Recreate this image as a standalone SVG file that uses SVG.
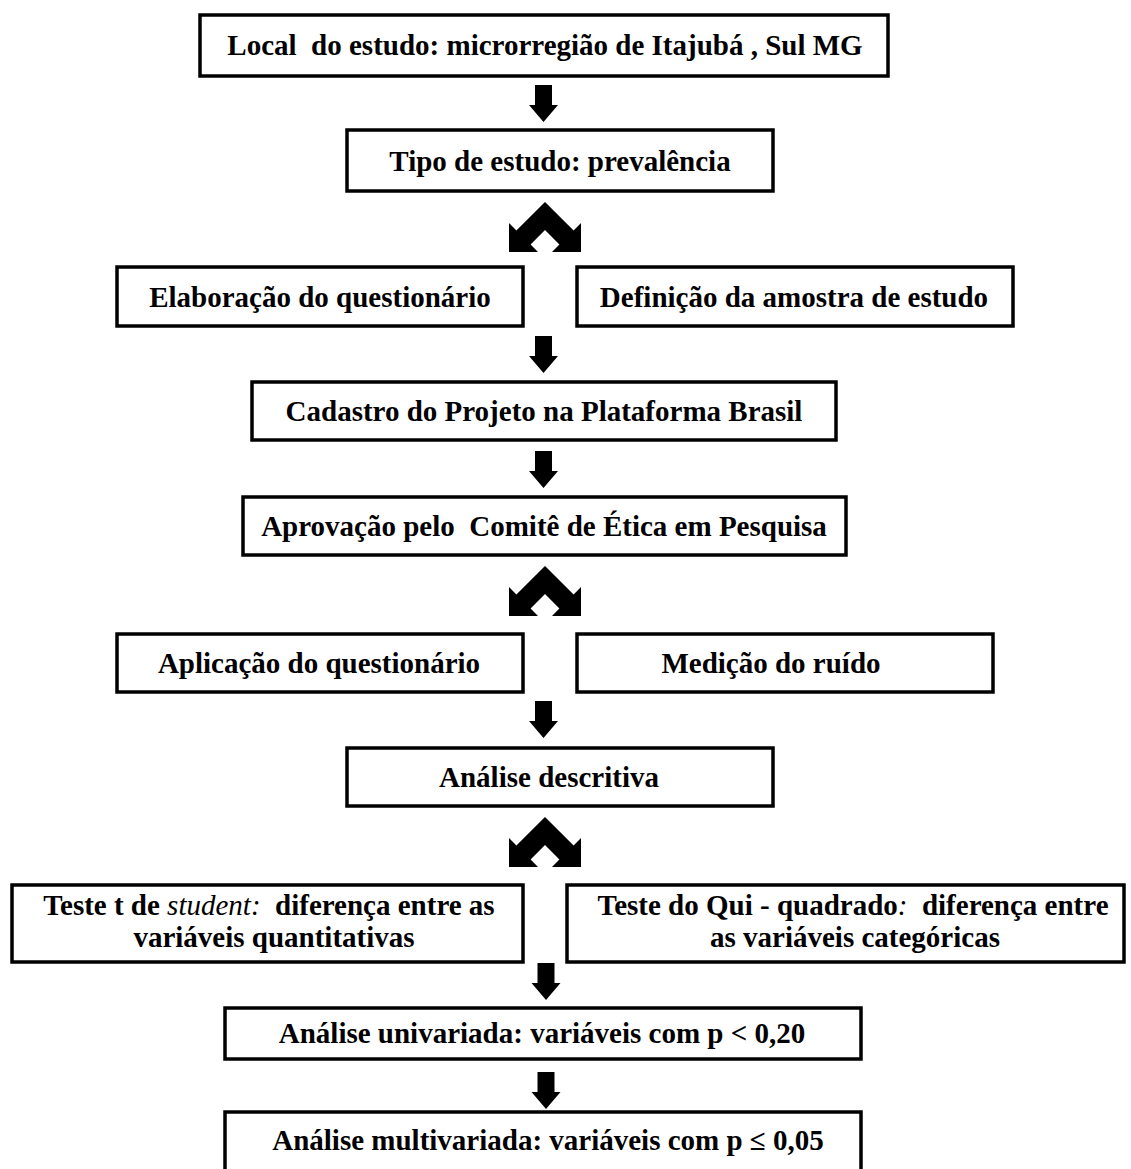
<svg xmlns="http://www.w3.org/2000/svg" xmlns:xlink="http://www.w3.org/1999/xlink" width="1131" height="1169" viewBox="0 0 1131 1169">
<style>
.box{fill:#fff;stroke:#000;stroke-width:3.5}
.t{font-family:"Liberation Serif","Times New Roman",serif;font-weight:bold;font-size:29px;fill:#000;text-anchor:middle}
.i{font-style:italic;font-weight:normal}
.arr{fill:#000}
</style>
<defs>
<path id="down" d="M-8.5,0 h17 v20 h6 l-14.5,17 l-14.5,-17 h6 z"/>
<path id="chev" d="M0,0 L-28.6,28.4 L-36,21 L-36,50 L-7,50 L-14.4,42.6 L0,28 L14.4,42.6 L7,50 L36,50 L36,21 L28.6,28.4 Z"/>
</defs>
<rect width="1131" height="1169" fill="#fff"/>
<g id="connectors" class="arr">
<use xlink:href="#down" x="543.5" y="85"/>
<use xlink:href="#chev" x="545" y="202"/>
<use xlink:href="#down" x="543.5" y="336"/>
<use xlink:href="#down" x="543.5" y="451"/>
<use xlink:href="#chev" x="545" y="566"/>
<use xlink:href="#down" x="543.5" y="701"/>
<use xlink:href="#chev" x="545" y="817"/>
<use xlink:href="#down" x="546" y="963"/>
<use xlink:href="#down" x="546" y="1072"/>
</g>
<g id="n1"><rect class="box" x="200" y="15" width="688" height="61"/><text class="t" x="545" y="55" xml:space="preserve">Local  do estudo: microrregião de Itajubá , Sul MG</text></g>
<g id="n2"><rect class="box" x="347" y="130" width="426" height="61"/><text class="t" x="560" y="171">Tipo de estudo: prevalência</text></g>
<g id="n3"><rect class="box" x="117" y="267" width="406" height="59"/><text class="t" x="320" y="307">Elaboração do questionário</text></g>
<g id="n4"><rect class="box" x="577" y="267" width="436" height="59"/><text class="t" x="794" y="307">Definição da amostra de estudo</text></g>
<g id="n5"><rect class="box" x="252" y="382" width="584" height="58"/><text class="t" x="544" y="421">Cadastro do Projeto na Plataforma Brasil</text></g>
<g id="n6"><rect class="box" x="243" y="497" width="603" height="58"/><text class="t" x="544" y="536" xml:space="preserve">Aprovação pelo  Comitê de Ética em Pesquisa</text></g>
<g id="n7"><rect class="box" x="117" y="634" width="406" height="58"/><text class="t" x="319" y="673">Aplicação do questionário</text></g>
<g id="n8"><rect class="box" x="577" y="634" width="416" height="58"/><text class="t" x="771" y="673">Medição do ruído</text></g>
<g id="n9"><rect class="box" x="347" y="748" width="426" height="58"/><text class="t" x="549" y="787">Análise descritiva</text></g>
<g id="n10"><rect class="box" x="12" y="885" width="511" height="77"/><text class="t" x="269" y="915" xml:space="preserve">Teste t de <tspan class="i">student:</tspan>  diferença entre as</text><text class="t" x="274" y="947">variáveis quantitativas</text></g>
<g id="n11"><rect class="box" x="567" y="885" width="557" height="77"/><text class="t" x="853" y="915" xml:space="preserve">Teste do Qui - quadrado<tspan class="i">:</tspan>  diferença entre</text><text class="t" x="855" y="947">as variáveis categóricas</text></g>
<g id="n12"><rect class="box" x="225" y="1008" width="636" height="51"/><text class="t" x="542" y="1043">Análise univariada: variáveis com p &lt; 0,20</text></g>
<g id="n13"><rect class="box" x="225" y="1112" width="636" height="70"/><text class="t" x="548" y="1150">Análise multivariada: variáveis com p ≤ 0,05</text></g>
</svg>
